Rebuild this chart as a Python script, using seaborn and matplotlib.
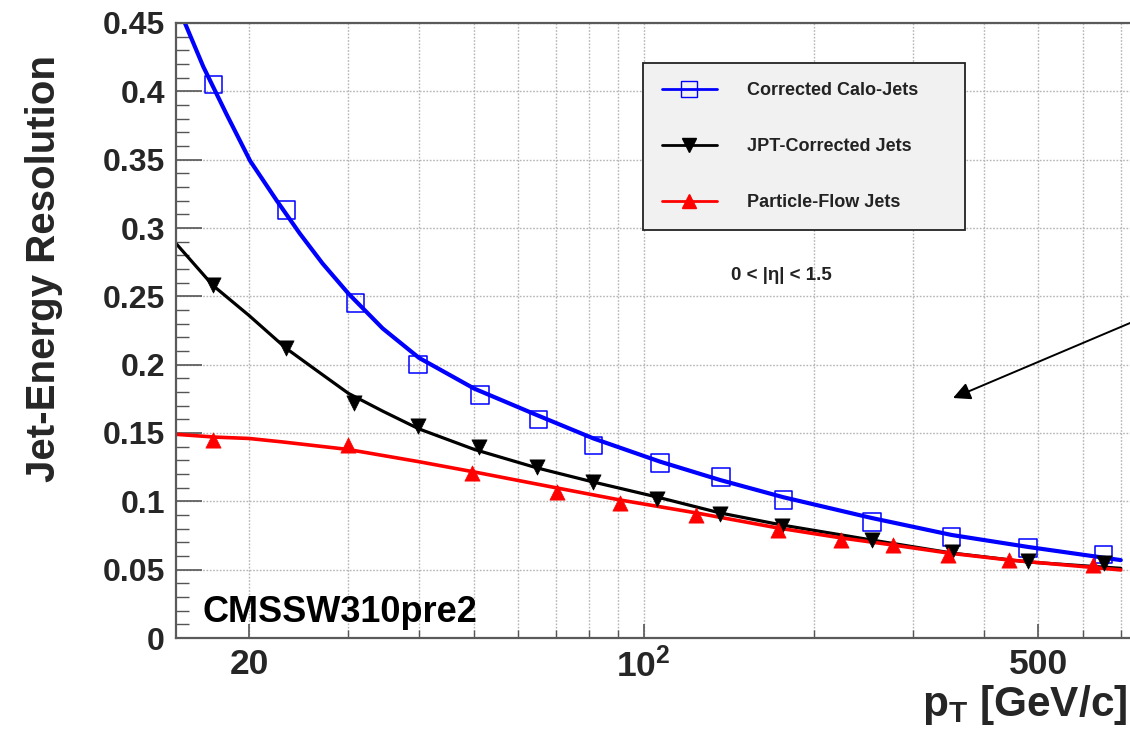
import numpy as np
import pandas as pd
import matplotlib
matplotlib.use("Agg")
import matplotlib.pyplot as plt
import seaborn as sns
from matplotlib.lines import Line2D
from matplotlib.ticker import FixedLocator, NullFormatter, FixedFormatter

# ---------------- data ----------------
series_names = ["Corrected Calo-Jets", "JPT-Corrected Jets", "Particle-Flow Jets"]

calo_pt = [17.3, 23.3, 30.9, 39.8, 51.3, 65.1, 81.5, 107, 137, 177, 254, 351, 480, 652]
calo_res = [0.405, 0.313, 0.245, 0.200, 0.178, 0.160, 0.141, 0.128, 0.118, 0.101, 0.085, 0.074, 0.066, 0.061]

jpt_pt = [17.3, 23.3, 30.7, 39.8, 51.0, 64.8, 81.5, 105.5, 136.6, 175.6, 253.5, 351, 480, 655]
jpt_res = [0.258, 0.212, 0.172, 0.155, 0.140, 0.125, 0.114, 0.102, 0.091, 0.082, 0.072, 0.063, 0.056, 0.055]

pf_pt = [17.3, 29.9, 49.6, 70.2, 90.8, 124, 173, 224, 277, 346, 443, 626]
pf_res = [0.145, 0.141, 0.1205, 0.107, 0.0986, 0.090, 0.079, 0.0717, 0.068, 0.0607, 0.0571, 0.0534]

# fitted curves
calo_fit_pt = [14.9, 15.4, 16.6, 18.26, 20.1, 22.4, 24.6, 27.0, 30.0, 34.5, 40.0, 50.1, 64.8, 81.5, 107, 136.6, 176.8, 253.5, 351, 480, 700]
calo_fit_res = [0.466, 0.450, 0.418, 0.383, 0.349, 0.320, 0.296, 0.274, 0.252, 0.2265, 0.205, 0.1825, 0.163, 0.146, 0.129, 0.1156, 0.103, 0.0878, 0.0754, 0.0666, 0.057]

jpt_fit_pt = [14.9, 17.26, 20.0, 23.26, 26.3, 30.0, 34.5, 40.0, 50.1, 64.8, 81.5, 105.5, 136.6, 175.6, 253.5, 351, 480, 700]
jpt_fit_res = [0.288, 0.258, 0.236, 0.212, 0.196, 0.179, 0.166, 0.153, 0.138, 0.1244, 0.1141, 0.1032, 0.0915, 0.0827, 0.0717, 0.0622, 0.0556, 0.051]

pf_fit_pt = [14.9, 17.4, 20.0, 23.0, 29.9, 40.0, 50.1, 70.2, 90.8, 124, 173, 224, 277, 346, 443, 700]
pf_fit_res = [0.149, 0.147, 0.146, 0.1434, 0.138, 0.129, 0.1215, 0.1098, 0.101, 0.0915, 0.0805, 0.0732, 0.068, 0.0622, 0.0571, 0.0498]

x_major_ticks = [20, 100, 500]
x_major_labels = ["20", r"$10^2$", "500"]
x_minor_ticks = [30, 40, 50, 60, 70, 80, 90, 200, 300, 400, 600, 700]
y_major_ticks = [0, 0.05, 0.1, 0.15, 0.2, 0.25, 0.3, 0.35, 0.4, 0.45]
y_major_labels = ["0", "0.05", "0.1", "0.15", "0.2", "0.25", "0.3", "0.35", "0.4", "0.45"]
y_minor_ticks = [i / 100 for i in range(0, 46)]

# ---------------- style ----------------
sns.set_theme(style="white")
plt.rcParams['font.family'] = ['Liberation Sans', 'DejaVu Sans']
plt.rcParams['font.weight'] = 'bold'
plt.rcParams['mathtext.fontset'] = 'custom'
plt.rcParams['mathtext.rm'] = 'Liberation Sans:bold'
plt.rcParams['mathtext.it'] = 'Liberation Sans:bold'
plt.rcParams['mathtext.bf'] = 'Liberation Sans:bold'
plt.rcParams['mathtext.default'] = 'rm'

W, H = 1130, 744
AX_L, AX_R, AX_T, AX_B = 176, 1140, 23, 638
fig = plt.figure(figsize=(W / 100, H / 100), dpi=100)
ax = fig.add_axes([AX_L / W, 1 - AX_B / H, (AX_R - AX_L) / W, (AX_B - AX_T) / H])

BLUE, BLACK, RED = "#0000ff", "#000000", "#ff0000"

# curves
sns.lineplot(x=calo_fit_pt, y=calo_fit_res, color=BLUE, lw=3.0, ax=ax, sort=False, estimator=None, legend=False)
sns.lineplot(x=jpt_fit_pt, y=jpt_fit_res, color=BLACK, lw=2.3, ax=ax, sort=False, estimator=None, legend=False)
sns.lineplot(x=pf_fit_pt, y=pf_fit_res, color=RED, lw=2.6, ax=ax, sort=False, estimator=None, legend=False)

# markers
sns.scatterplot(x=calo_pt, y=calo_res, marker="s", s=160, facecolor="none", edgecolor=BLUE, linewidth=1.1, ax=ax, legend=False, zorder=4)
sns.scatterplot(x=jpt_pt, y=jpt_res, marker="v", s=120, color=BLACK, edgecolor=BLACK, linewidth=0.5, ax=ax, legend=False, zorder=4)
sns.scatterplot(x=pf_pt, y=pf_res, marker="^", s=120, color=RED, edgecolor=RED, linewidth=0.5, ax=ax, legend=False, zorder=4)

# x axis from 14.85 at the left edge, ~564.6 px per decade
x_lo = 14.85
x_hi = 10 ** (np.log10(x_lo) + (AX_R - AX_L) / 564.6)
ax.set_xscale("log")
ax.set_xlim(x_lo, x_hi)
ax.set_ylim(0, 0.45)

ax.xaxis.set_major_locator(FixedLocator(x_major_ticks))
ax.xaxis.set_major_formatter(FixedFormatter(x_major_labels))
ax.xaxis.set_minor_locator(FixedLocator(x_minor_ticks))
ax.xaxis.set_minor_formatter(NullFormatter())
ax.yaxis.set_major_locator(FixedLocator(y_major_ticks))
ax.yaxis.set_major_formatter(FixedFormatter(y_major_labels))
ax.yaxis.set_minor_locator(FixedLocator(y_minor_ticks))

ax.tick_params(axis="x", which="major", direction="in", length=10, width=1.2, color="#555555",
               labelsize=25.5, pad=7, bottom=True)
ax.tick_params(axis="x", which="minor", direction="in", length=6, width=1.0, color="#555555", bottom=True)
ax.tick_params(axis="y", which="major", direction="in", length=19, width=1.2, color="#555555",
               labelsize=23, pad=8, left=True)
ax.tick_params(axis="y", which="minor", direction="in", length=9, width=1.0, color="#555555", left=True)

grid_kw = dict(color="#b5b5b5", linestyle=(0, (1.2, 1.2)), linewidth=1.0)
ax.xaxis.grid(True, which="both", **grid_kw)
ax.yaxis.grid(True, which="major", **grid_kw)
ax.yaxis.grid(False, which="minor")
ax.set_axisbelow(True)
for sp in ax.spines.values():
    sp.set_color("#5a5a5a")
    sp.set_linewidth(1.6)

ax.set_ylabel("Jet-Energy Resolution", fontsize=29, fontweight="bold")
ax.yaxis.set_label_coords(-0.117, 0.60)
ax.set_xlabel(r"$p_T$ [GeV/c]", fontsize=30.5, fontweight="bold", loc="right")
ax.xaxis.set_label_coords((1127 - AX_L) / (AX_R - AX_L), -0.073)
ax.xaxis.label.set_horizontalalignment("right")

# legend
handles = [
    Line2D([], [], color=BLUE, lw=2, marker="s", ms=12, mfc="none", mec=BLUE, mew=1.0),
    Line2D([], [], color=BLACK, lw=2, marker="v", ms=10, mfc=BLACK, mec=BLACK),
    Line2D([], [], color=RED, lw=2, marker="^", ms=10, mfc=RED, mec=RED),
]
x0 = (643 - AX_L) / (AX_R - AX_L)
x1 = (965 - AX_L) / (AX_R - AX_L)
ytop = (AX_B - 63) / (AX_B - AX_T)
leg = ax.legend(handles, series_names, loc="upper left", bbox_to_anchor=(x0, ytop, x1 - x0, 0.0),
                mode="expand", borderaxespad=0, prop={"weight": "bold", "size": 13},
                handlelength=3.05, handletextpad=1.65, labelspacing=2.17, borderpad=1.05,
                frameon=True, fancybox=False, framealpha=1, shadow=False)
fr = leg.get_frame()
fr.set_facecolor("#f1f1f1")
fr.set_edgecolor("#222222")
fr.set_linewidth(1.3)
for t in leg.get_texts():
    t.set_color("#222222")

# annotations
fig.text(781 / W, 1 - 275 / H, "0 < |η| < 1.5", fontsize=13.5, fontweight="bold",
         ha="center", va="center", color="#222222")
fig.text(203 / W, 1 - 622 / H, "CMSSW310pre2", fontsize=26, fontweight="bold",
         ha="left", va="baseline", color="black")
fig.add_artist(matplotlib.patches.FancyArrowPatch(
    posA=(1140 / W, 1 - 318.8 / H), posB=(953 / W, 1 - 398 / H),
    transform=fig.transFigure, arrowstyle="-|>", mutation_scale=26,
    color="black", lw=1.4, shrinkA=0, shrinkB=0))

fig.savefig("out.png", dpi=100)
